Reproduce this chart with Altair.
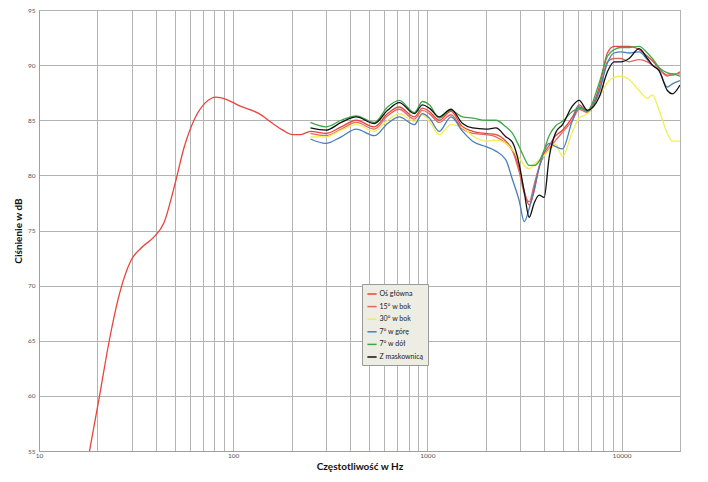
import altair as alt
import pandas as pd

# ---- data ----
series_names = ["Oś główna", "15° w bok", "30° w bok", "7° w górę", "7° w dół", "Z maskownicą"]
series_colors = ["#e8453c", "#df6a62", "#f2ee52", "#4a7ebb", "#3fa648", "#111111"]

# low-frequency part of the main axis curve
main_low_hz = [18.2, 20.5, 23, 26, 29.8, 34, 39, 44, 49.8, 56, 64, 72, 81.7, 92, 108, 136, 160, 180, 202, 223]
main_low_db = [55.0, 60.0, 65.0, 69.3, 72.3, 73.5, 74.4, 75.7, 79.0, 82.6, 85.3, 86.6, 87.1, 86.9, 86.3, 85.6, 84.7, 84.1, 83.7, 83.7]

# common frequency grid for 250 Hz - 20 kHz
hz = [250, 300, 360, 430, 533, 624, 716, 857, 944, 1024, 1151, 1323, 1518, 1709, 2004, 2254,
      2537, 2745, 2972, 3154, 3345, 3550, 3766, 3992, 4236, 4585, 4964, 5589, 6048, 6673,
      7674, 8458, 9158, 9916, 10935, 12310, 13580, 14410, 15600, 17220, 18270, 20000]

os_glowna = [84.0, 83.8, 84.4, 85.0, 84.4, 85.6, 86.2, 85.3, 86.1, 85.8, 85.0, 85.8, 84.4, 84.0, 83.8, 83.7,
             83.1, 82.3, 80.6, 78.6, 77.3, 78.6, 80.8, 82.0, 82.7, 83.6, 84.1, 85.3, 86.4, 85.8,
             88.0, 91.1, 91.7, 91.7, 91.7, 91.4, 90.8, 90.4, 89.7, 89.1, 89.1, 89.4]
bok_15 = [83.8, 83.6, 84.2, 84.8, 84.2, 85.4, 86.0, 85.1, 85.9, 85.6, 84.8, 85.5, 84.2, 83.8, 83.7, 83.5,
          82.9, 82.2, 80.3, 78.4, 77.6, 79.2, 80.8, 81.8, 82.4, 83.2, 83.9, 85.0, 86.0, 85.7,
          87.6, 90.3, 90.6, 90.6, 90.3, 90.5, 90.3, 90.0, 89.6, 89.0, 89.2, 89.2]
bok_30 = [83.5, 83.5, 84.1, 84.6, 84.0, 85.0, 85.6, 84.9, 85.5, 84.9, 83.7, 84.6, 84.3, 83.6, 83.1, 83.2,
          82.9, 82.3, 81.6, 80.9, 80.6, 81.0, 81.4, 81.8, 82.3, 82.8, 81.7, 84.0, 85.2, 85.6,
          87.1, 88.4, 88.9, 89.0, 88.7, 87.7, 87.0, 87.3, 85.9, 83.8, 83.1, 83.1]
gora_7 = [83.3, 82.9, 83.5, 84.2, 83.6, 84.7, 85.3, 84.6, 85.6, 85.2, 84.0, 85.3, 84.0, 83.1, 82.6, 82.2,
          81.4, 79.6, 77.7, 75.8, 77.0, 78.8, 80.7, 82.2, 82.9, 82.6, 82.4, 85.0, 86.2, 85.8,
          87.6, 90.2, 91.1, 91.2, 91.1, 91.2, 90.5, 90.0, 89.5, 88.0, 88.3, 88.6]
dol_7 = [84.8, 84.4, 85.0, 85.4, 84.8, 86.2, 86.8, 85.7, 86.7, 86.4, 85.2, 85.9, 85.3, 85.2, 85.0, 85.0,
         84.4, 83.8, 82.6, 81.6, 80.9, 80.9, 81.3, 82.3, 83.6, 84.5, 84.9, 85.8, 86.1, 85.9,
         88.4, 90.8, 91.4, 91.6, 91.6, 91.7, 91.1, 90.6, 89.8, 89.3, 89.2, 89.0]
maskownica = [84.3, 84.1, 84.8, 85.3, 84.7, 85.9, 86.6, 85.6, 86.4, 86.1, 85.3, 86.0, 84.7, 84.3, 84.2, 84.3,
              83.5, 83.0, 81.0, 78.5, 76.2, 77.5, 78.2, 78.0, 81.6, 83.9, 84.6, 86.3, 86.8, 85.9,
              87.1, 89.4, 90.3, 90.3, 90.6, 91.5, 90.6, 90.0, 89.5, 87.7, 87.4, 88.2]

y_ticks = [55, 60, 65, 70, 75, 80, 85, 90, 95]
x_labels = [10, 100, 1000, 10000]
grid_hz = [m * 10 ** e for e in range(1, 5) for m in range(1, 10)] + [20000]

# ---- build long table ----
rows = []
for f, d in zip(main_low_hz, main_low_db):
    rows.append({"series": series_names[0], "hz": f, "db": d})
for name, vals in zip(series_names, [os_glowna, bok_15, bok_30, gora_7, dol_7, maskownica]):
    for f, d in zip(hz, vals):
        rows.append({"series": name, "hz": f, "db": d})
df = pd.DataFrame(rows)

FONT = "Lato"

lines = alt.Chart(df).mark_line(strokeWidth=1.3, interpolate="monotone", clip=True).encode(
    x=alt.X("hz:Q",
            scale=alt.Scale(type="log", domain=[10, 20000], nice=False),
            axis=alt.Axis(values=grid_hz,
                          labelExpr="indexof([10,100,1000,10000], datum.value) >= 0 ? datum.value : ''",
                          title="Częstotliwość w Hz", ticks=False, grid=True,
                          labelFontSize=6.5, labelColor="#555555", labelPadding=1,
                          labelFlush=False, labelOverlap=False,
                          titleFontSize=10, titleFontWeight="bold", titleColor="#111111",
                          titlePadding=3, gridColor="#b3b3b3", gridWidth=1,
                          domainColor="#a0a0a0")),
    y=alt.Y("db:Q",
            scale=alt.Scale(domain=[55, 95], nice=False, zero=False),
            axis=alt.Axis(values=y_ticks, title="Ciśnienie w dB", ticks=False,
                          labelFontSize=6.5, labelColor="#555555", labelPadding=4,
                          titleFontSize=10, titleFontWeight="bold", titleColor="#111111",
                          titlePadding=4, gridColor="#b3b3b3", gridWidth=1,
                          domainColor="#a0a0a0")),
    color=alt.Color("series:N",
                    scale=alt.Scale(domain=series_names, range=series_colors),
                    sort=series_names,
                    legend=alt.Legend(title=None, orient="none", legendX=323, legendY=274,
                                      fillColor="#eeede3", strokeColor="#9a9a9a",
                                      padding=4.5, symbolType="stroke", symbolSize=85,
                                      symbolStrokeWidth=1.5, labelFontSize=7,
                                      labelColor="#222222", rowPadding=3.6, labelOffset=2,
                                      cornerRadius=0)),
    detail="series:N",
    order="hz:Q",
)

chart = lines.properties(
    width=641, height=441,
    autosize=alt.AutoSizeParams(type="none"),
    padding={"left": 31, "top": 2, "right": 20, "bottom": 30},
    background="#ffffff",
).configure(font=FONT).configure_view(stroke="#a0a0a0", strokeWidth=1)

chart.save("out.html", embed_options={"renderer": "svg", "actions": False})
